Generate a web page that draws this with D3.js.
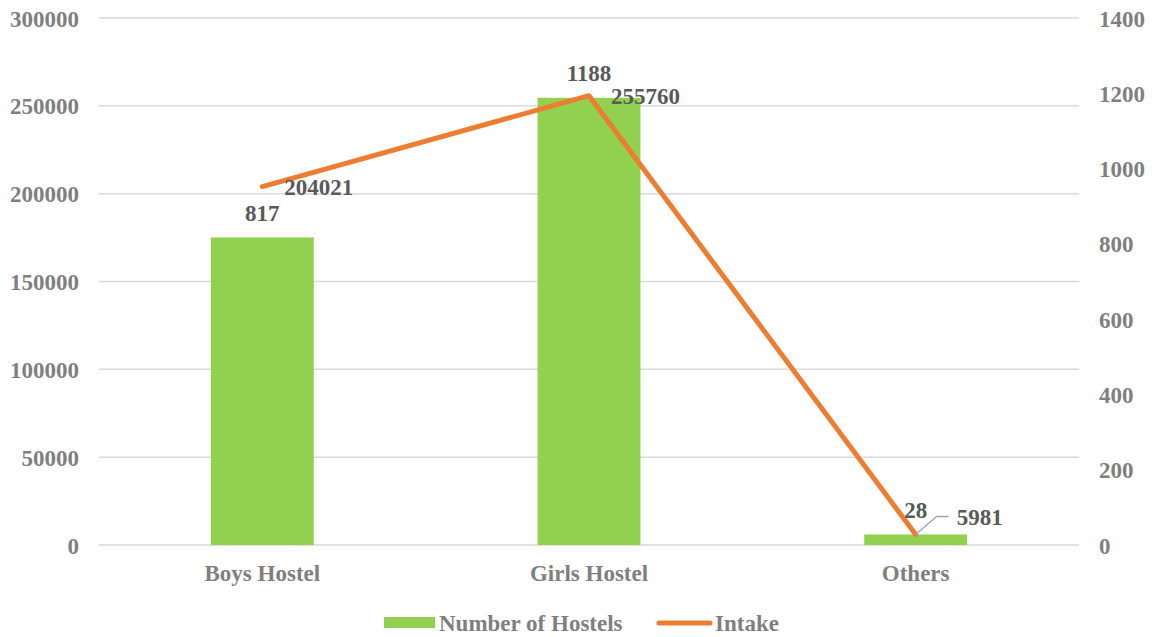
<!DOCTYPE html>
<html><head><meta charset="utf-8">
<script src="https://cdn.jsdelivr.net/npm/d3@7"></script>
<style>
html,body{margin:0;padding:0;background:#fff;}
text{font-family:"Liberation Serif","Times New Roman",serif;font-weight:bold;}
</style></head>
<body><svg id="chart" width="1160" height="637"></svg>
<script>
const categories = ["Boys Hostel", "Girls Hostel", "Others"];
const hostels = [817, 1188, 28];
const intake = [204021, 255760, 5981];
const leftTicks = [0, 50000, 100000, 150000, 200000, 250000, 300000];
const rightTicks = [0, 200, 400, 600, 800, 1000, 1200, 1400];

const svg = d3.select("#chart");
const m = {left: 99, right: 1079, top: 18, bottom: 545};
const x = d3.scaleBand().domain(categories).range([m.left, m.right]).paddingInner(0.685).paddingOuter(0.3425);
const yL = d3.scaleLinear().domain([0, 300000]).range([m.bottom, m.top]);
const yR = d3.scaleLinear().domain([0, 1400]).range([m.bottom, m.top]);
const cx = c => x(c) + x.bandwidth() / 2;
const axisColor = "#7f7f7f", labelColor = "#595959", fs = 23;

// gridlines
svg.append("g").selectAll("line").data(leftTicks).join("line")
  .attr("x1", m.left).attr("x2", m.right)
  .attr("y1", d => yL(d)).attr("y2", d => yL(d))
  .attr("stroke", "#d9d9d9").attr("stroke-width", 1.5);

// left axis
const gL = svg.append("g").attr("transform", `translate(${m.left},0)`)
  .call(d3.axisLeft(yL).tickValues(leftTicks).tickFormat(d3.format("d")).tickSize(0).tickPadding(20));
gL.select(".domain").remove();
gL.selectAll("text").attr("fill", axisColor).attr("font-size", fs).attr("font-family", null).attr("dy", "0.35em");

// right axis
const gR = svg.append("g").attr("transform", `translate(${m.right},0)`)
  .call(d3.axisRight(yR).tickValues(rightTicks).tickFormat(d3.format("d")).tickSize(0).tickPadding(20));
gR.select(".domain").remove();
gR.selectAll("text").attr("fill", axisColor).attr("font-size", fs).attr("font-family", null).attr("dy", "0.35em");

// category axis
const gX = svg.append("g").attr("transform", `translate(0,${m.bottom})`)
  .call(d3.axisBottom(x).tickSize(0).tickPadding(20));
gX.select(".domain").remove();
gX.selectAll("text").attr("fill", axisColor).attr("font-size", fs).attr("font-family", null).attr("dy", "0.71em");

// bars (secondary axis)
svg.append("g").selectAll("rect").data(categories).join("rect")
  .attr("x", c => x(c)).attr("width", x.bandwidth())
  .attr("y", (c, i) => yR(hostels[i])).attr("height", (c, i) => m.bottom - yR(hostels[i]))
  .attr("fill", "#92d050");

// line (primary axis)
const line = d3.line().x((d, i) => cx(categories[i])).y(d => yL(d));
svg.append("path").datum(intake).attr("d", line)
  .attr("fill", "none").attr("stroke", "#ed7d31").attr("stroke-width", 5)
  .attr("stroke-linecap", "round").attr("stroke-linejoin", "round");

// bar labels
svg.append("g").selectAll("text").data(categories).join("text")
  .attr("x", (c, i) => cx(c) + (i === 1 ? 0 : 0))
  .attr("y", (c, i) => i === 1 ? yL(intake[i]) - 15 : yR(hostels[i]) - 16)
  .attr("text-anchor", "middle").attr("font-size", fs).attr("fill", labelColor)
  .text((c, i) => hostels[i]);

// line labels
const lbl = svg.append("g");
categories.forEach((c, i) => {
  const px = cx(c), py = yL(intake[i]);
  let tx = px + 22, ty = py + 8;
  if (i === 2) {
    tx = px + 41; ty = py - 9;
    lbl.append("polyline")
      .attr("points", `${px},${py} ${px + 21},${py - 18} ${px + 33},${py - 18}`)
      .attr("fill", "none").attr("stroke", "#a6a6a6").attr("stroke-width", 1.3);
  }
  lbl.append("text").attr("x", tx).attr("y", ty)
    .attr("font-size", fs).attr("fill", labelColor).text(intake[i]);
});

// legend
const lg = svg.append("g");
lg.append("rect").attr("x", 384).attr("y", 617).attr("width", 51).attr("height", 11).attr("fill", "#92d050");
lg.append("text").attr("x", 439).attr("y", 631).attr("font-size", fs).attr("fill", axisColor).text("Number of Hostels");
lg.append("line").attr("x1", 659).attr("x2", 710).attr("y1", 623).attr("y2", 623)
  .attr("stroke", "#ed7d31").attr("stroke-width", 5).attr("stroke-linecap", "round");
lg.append("text").attr("x", 715).attr("y", 631).attr("font-size", fs).attr("fill", axisColor).text("Intake");
</script>
</body></html>
